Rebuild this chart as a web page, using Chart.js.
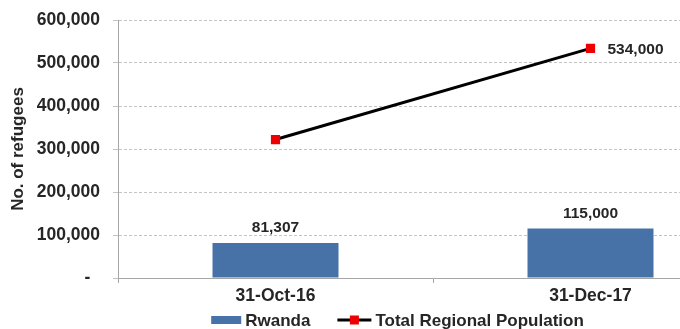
<!DOCTYPE html>
<html>
<head>
<meta charset="utf-8">
<script src="https://cdn.jsdelivr.net/npm/chart.js@4/dist/chart.umd.min.js"></script>
<style>
  html, body { margin: 0; padding: 0; background: #fff; overflow: hidden; }
  #wrap { width: 680px; height: 329px; overflow: hidden; position: relative; }
  canvas { display: block; }
</style>
</head>
<body>
<div id="wrap"><canvas id="c" width="795" height="329"></canvas></div>
<script>
// Refugee figures by reporting date
const categories = ['31-Oct-16', '31-Dec-17'];
const rwanda = [81307, 115000];
const regional = [322000, 534000];
const regionalLabelShown = [false, true];
const yTickValues = [0, 100000, 200000, 300000, 400000, 500000, 600000];
const seriesNames = ['Rwanda', 'Total Regional Population'];

const FONT = "'Liberation Sans', Arial, Helvetica, sans-serif";
const TEXT = '#262626';
const BAR = '#4672a8';
const MARK = '#ee0000';

const fmt = v => v.toLocaleString('en-US');

// Value labels above the bars and beside the flagged line points
const valueLabels = {
  id: 'valueLabels',
  afterDatasetsDraw(chart) {
    const ctx = chart.ctx;
    ctx.save();
    ctx.font = 'bold 15.5px ' + FONT;
    ctx.fillStyle = TEXT;
    ctx.textBaseline = 'middle';
    const barData = chart.data.datasets[0].data;
    chart.getDatasetMeta(0).data.forEach((el, i) => {
      ctx.textAlign = 'center';
      ctx.fillText(fmt(barData[i]), el.x, el.y - 15);
    });
    const lineData = chart.data.datasets[1].data;
    chart.getDatasetMeta(1).data.forEach((el, i) => {
      if (!regionalLabelShown[i]) return;
      ctx.textAlign = 'left';
      ctx.fillText(fmt(lineData[i]), el.x + 17, el.y + 1);
    });
    ctx.restore();
  }
};

// Single-row legend at the bottom: bar swatch, then line with marker
const legendRow = {
  id: 'legendRow',
  afterDraw(chart) {
    const ctx = chart.ctx;
    const ds = chart.data.datasets;
    ctx.save();
    ctx.font = 'bold 17px ' + FONT;
    ctx.fillStyle = TEXT;
    ctx.textBaseline = 'middle';
    ctx.textAlign = 'left';
    const y = 320;
    const boxW = 30, gapText = 4, gapItem = 27, lineW = 34;
    const t0 = ctx.measureText(ds[0].label).width;
    const t1 = ctx.measureText(ds[1].label).width;
    const total = boxW + gapText + t0 + gapItem + lineW + gapText + t1;
    let x = chart.width / 2 - total / 2;
    ctx.fillStyle = ds[0].backgroundColor;
    ctx.fillRect(x, y - 4, boxW, 8);
    x += boxW + gapText;
    ctx.fillStyle = TEXT;
    ctx.fillText(ds[0].label, x, y + 1);
    x += t0 + gapItem;
    ctx.strokeStyle = ds[1].borderColor;
    ctx.lineWidth = 3;
    ctx.beginPath();
    ctx.moveTo(x, y);
    ctx.lineTo(x + lineW, y);
    ctx.stroke();
    ctx.fillStyle = ds[1].pointBackgroundColor;
    ctx.fillRect(x + lineW / 2 - 4.5, y - 4.5, 9, 9);
    x += lineW + gapText;
    ctx.fillStyle = TEXT;
    ctx.fillText(ds[1].label, x, y + 1);
    ctx.restore();
  }
};

Chart.defaults.font.family = FONT;
Chart.defaults.font.weight = 'bold';
Chart.defaults.color = TEXT;

new Chart(document.getElementById('c'), {
  data: {
    labels: categories,
    datasets: [
      {
        type: 'bar',
        label: seriesNames[0],
        data: rwanda,
        backgroundColor: BAR,
        borderWidth: 0,
        categoryPercentage: 1,
        barPercentage: 0.4,
        order: 2
      },
      {
        type: 'line',
        label: seriesNames[1],
        data: regional,
        borderColor: '#000000',
        borderWidth: 3,
        pointStyle: 'rect',
        pointRadius: 6.5,
        pointBackgroundColor: MARK,
        pointBorderColor: MARK,
        pointBorderWidth: 0,
        tension: 0,
        order: 1
      }
    ]
  },
  options: {
    responsive: false,
    devicePixelRatio: 1,
    animation: false,
    layout: { padding: { left: 0, top: 20, right: 47, bottom: 0 } },
    plugins: { legend: { display: false }, tooltip: { enabled: false } },
    scales: {
      x: {
        offset: true,
        afterFit: s => { s.height = 51; s.paddingLeft = 0; s.paddingRight = 0; },
        grid: {
          offset: true,
          drawOnChartArea: false,
          drawTicks: true,
          tickLength: 5,
          color: '#a6a6a6'
        },
        border: { display: true, color: '#a6a6a6', width: 1 },
        ticks: { font: { size: 17.5, weight: 'bold' }, color: TEXT, padding: 3, maxRotation: 0 }
      },
      y: {
        min: 0,
        max: 600000,
        afterFit: s => { s.width = 118; s.paddingTop = 0; s.paddingBottom = 0; },
        afterBuildTicks: s => { s.ticks = yTickValues.map(v => ({ value: v })); },
        grid: {
          color: '#c4c4c4',
          tickLength: 5,
          drawTicks: true,
          tickColor: '#c4c4c4'
        },
        border: { display: true, color: '#a6a6a6', width: 1, dash: [3, 2] },
        ticks: {
          font: { size: 17.5, weight: 'bold' },
          color: TEXT,
          padding: 13,
          callback: v => (v === 0 ? '-  ' : fmt(v))
        },
        title: {
          display: true,
          text: 'No. of refugees',
          font: { size: 17, weight: 'bold' },
          color: TEXT,
          padding: { top: 8, bottom: 0 }
        }
      }
    }
  },
  plugins: [valueLabels, legendRow]
});
</script>
</body>
</html>
